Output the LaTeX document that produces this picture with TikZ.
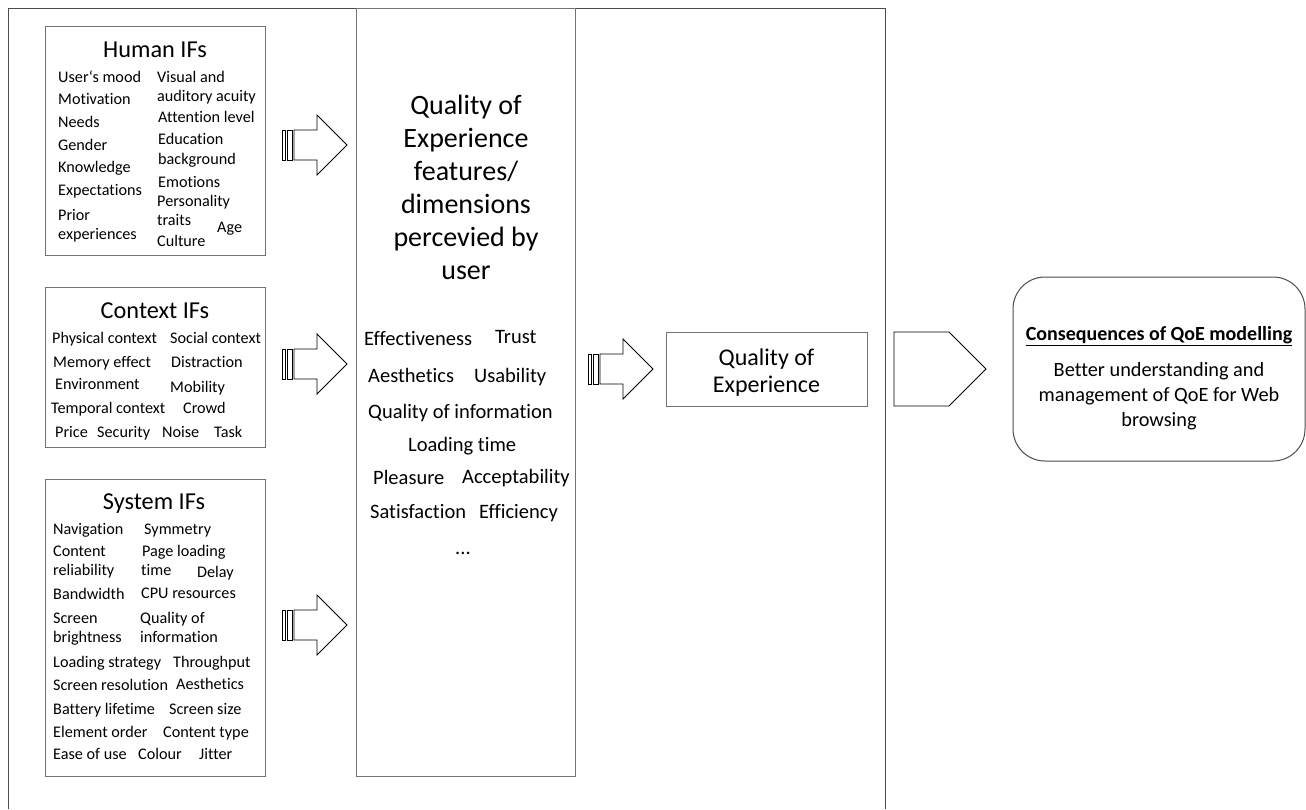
\documentclass[tikz,border=0pt]{standalone}
\usepackage{fontspec}
\setmainfont{Carlito}[Ligatures=NoCommon]
\begin{document}
\begin{tikzpicture}[x=1pt,y=-1pt,
  outerframe/.style={draw=black!70, line width=1pt},
  ifbox/.style={draw=black!55, line width=0.9pt},
  itm/.style={anchor=base west, inner sep=0pt, font=\fontsize{16.2}{19}\selectfont},
  ttl/.style={anchor=base, inner sep=0pt, font=\fontsize{24.3}{29}\selectfont},
  dimtext/.style={anchor=base west, inner sep=0pt, font=\fontsize{20.5}{24}\selectfont},
  arrowline/.style={draw=black, line width=0.8pt, line join=miter},
  stripearrow/.pic={
    \draw[arrowline] (0,-15) rectangle (3.5,15);
    \draw[arrowline] (5,-15) rectangle (10.5,15);
    \draw[arrowline] (12,-15) -- (35,-15) -- (35,-30) -- (65,0) -- (35,30) -- (35,15) -- (12,15) -- cycle;
  }]
\useasboundingbox (0,0) rectangle (1306,809);

% frames
\draw[outerframe] (8,809) -- (8,8) -- (885,8) -- (885,809);
\draw[ifbox] (356,8) rectangle (575,776);

% Human influence factors
\draw[ifbox] (45,26) rectangle (265,255);
\node[ttl] (hT) at (155,57) {Human IFs};
\node[itm] (h1) at (58,82) {User‘s mood};
\node[itm] (h2) at (58,104) {Motivation};
\node[itm] (h3) at (58,127) {Needs};
\node[itm] (h4) at (58,150) {Gender};
\node[itm] (h5) at (58,172) {Knowledge};
\node[itm] (h6) at (58,195) {Expectations};
\node[itm] (h7) at (58,220) {Prior};
\node[itm] (h8) at (58,239) {experiences};
\node[itm] (h9) at (157,82) {Visual and};
\node[itm] (h10) at (157,101) {auditory acuity};
\node[itm] (h11) at (158,122) {Attention level};
\node[itm] (h12) at (158,144) {Education};
\node[itm] (h13) at (158,164) {background};
\node[itm] (h14) at (158,187) {Emotions};
\node[itm] (h15) at (157,206) {Personality};
\node[itm] (h16) at (157,225) {traits};
\node[itm] (h17) at (157,246) {Culture};
\node[itm] (h18) at (217,232) {Age};

% Context influence factors
\draw[ifbox] (45,287) rectangle (265,447);
\node[ttl] (cT) at (155,318) {Context IFs};
\node[itm] (c1) at (52,343) {Physical context};
\node[itm] (c2) at (170,343) {Social context};
\node[itm] (c3) at (53,367) {Memory effect};
\node[itm] (c4) at (171,367) {Distraction};
\node[itm] (c5) at (55,389) {Environment};
\node[itm] (c6) at (170,392) {Mobility};
\node[itm] (c7) at (51,413) {Temporal context};
\node[itm] (c8) at (183,413) {Crowd};
\node[itm] (c9) at (55,437) {Price};
\node[itm] (c10) at (97,437) {Security};
\node[itm] (c11) at (162,437) {Noise};
\node[itm] (c12) at (214,437) {Task};

% System influence factors
\draw[ifbox] (45,479) rectangle (265,776);
\node[ttl] (sT) at (154,509) {System IFs};
\node[itm] (s1) at (53,534) {Navigation};
\node[itm] (s2) at (144,534) {Symmetry};
\node[itm] (s3) at (53,556) {Content};
\node[itm] (s4) at (142,556) {Page loading};
\node[itm] (s5) at (53,575) {reliability};
\node[itm] (s6) at (141,575) {time};
\node[itm] (s7) at (197,577) {Delay};
\node[itm] (s8) at (53,599) {Bandwidth};
\node[itm] (s9) at (141,598) {CPU resources};
\node[itm] (s10) at (53,623) {Screen};
\node[itm] (s11) at (140,623) {Quality of};
\node[itm] (s12) at (53,642) {brightness};
\node[itm] (s13) at (140,642) {information};
\node[itm] (s14) at (53,667) {Loading strategy};
\node[itm] (s15) at (173,667) {Throughput};
\node[itm] (s16) at (53,690) {Screen resolution};
\node[itm] (s17) at (176,689) {Aesthetics};
\node[itm] (s18) at (53,714) {Battery lifetime};
\node[itm] (s19) at (169,714) {Screen size};
\node[itm] (s20) at (53,737) {Element order};
\node[itm] (s21) at (163,737) {Content type};
\node[itm] (s22) at (53,759) {Ease of use};
\node[itm] (s23) at (138,759) {Colour};
\node[itm] (s24) at (199,759) {Jitter};

% arrows into the central column
\pic at (282,145) {stripearrow};
\pic at (282,364) {stripearrow};
\pic at (282,625) {stripearrow};

% central column: perceived QoE features
\node[align=center, inner sep=0pt, font=\fontsize{28}{33}\selectfont] (dimT) at (466,187)
  {Quality of\\Experience\\features/\\dimensions\\percevied by\\user};
\node[dimtext] (d1) at (364,345) {Effectiveness};
\node[dimtext] (d2) at (495,343) {Trust};
\node[dimtext] (d3) at (368,382) {Aesthetics};
\node[dimtext] (d4) at (474,382) {Usability};
\node[dimtext] (d5) at (368,418) {Quality of information};
\node[dimtext] (d6) at (408,451) {Loading time};
\node[dimtext] (d7) at (373,484) {Pleasure};
\node[dimtext] (d8) at (462,483) {Acceptability};
\node[dimtext] (d9) at (370,518) {Satisfaction};
\node[dimtext] (d10) at (479,518) {Efficiency};
\node[anchor=base, inner sep=0pt, font=\fontsize{20.5}{24}\selectfont] (d11) at (463,554) {...};

% quality of experience
\pic at (588,369) {stripearrow};
\node[ifbox, minimum width=201pt, minimum height=74pt, inner sep=0pt] (qoe) at (766.5,369) {};
\node[align=center, inner sep=0pt, font=\fontsize{24}{27}\selectfont] (qoeT) at (766.5,372.5)
  {Quality of\\Experience};

% consequences
\draw[arrowline] (894,332) -- (949,332) -- (986,369) -- (949,406) -- (894,406) -- cycle;
\draw[draw=black!70, line width=1pt, rounded corners=32pt] (1013,277) rectangle (1305,461);
\node[anchor=base, inner sep=0pt, font=\fontsize{20}{24}\selectfont\bfseries] (consT) at (1159,340)
  {\underline{Consequences of QoE modelling}};
\node[align=center, inner sep=0pt, font=\fontsize{20.3}{25}\selectfont] (cons) at (1159,396)
  {Better understanding and\\management of QoE for Web\\browsing};
\end{tikzpicture}
\end{document}
